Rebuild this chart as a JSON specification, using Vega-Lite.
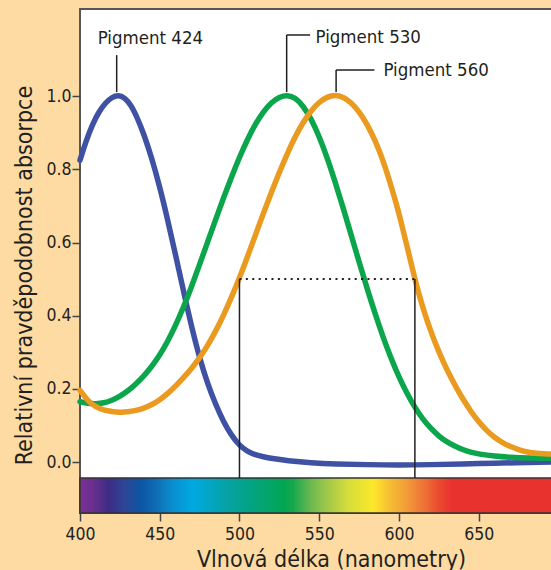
{
  "$schema": "https://vega.github.io/schema/vega-lite/v6.json",
  "width": 480,
  "height": 504,
  "autosize": "none",
  "padding": {"left": 80, "top": 9, "right": 0, "bottom": 57},
  "background": "#FDDBA3",
  "config": {
    "view": {"fill": "white", "stroke": "#555555", "strokeWidth": 2},
    "font": "DejaVu Sans Condensed, Liberation Sans, sans-serif"
  },
  "encoding": {
    "x": {
      "field": "wl", "type": "quantitative",
      "scale": {"domain": [400, 701], "nice": false, "zero": false},
      "axis": {
        "values": [400, 450, 500, 550, 600, 650], "grid": false, "domain": false,
        "labelFlush": false, "labelOverlap": false,
        "tickSize": 8, "tickColor": "#444444", "tickWidth": 1.5,
        "labelFont": "DejaVu Sans Condensed, Liberation Sans, sans-serif", "labelFontSize": 17.5, "labelColor": "#231F20", "labelPadding": 4,
        "title": "Vlnová délka (nanometry)", "titleFont": "DejaVu Sans Condensed, Liberation Sans, sans-serif", "titleFontSize": 23,
        "titleFontWeight": "normal", "titleColor": "#231F20", "titleX": 251, "titleY": 53,
        "titleBaseline": "alphabetic", "titleAlign": "center"
      }
    },
    "y": {
      "field": "val", "type": "quantitative",
      "scale": {"domain": [-0.139, 1.238], "nice": false, "zero": false},
      "axis": {
        "values": [0, 0.2, 0.4, 0.6, 0.8, 1.0], "format": ".1f", "grid": false, "domain": false,
        "labelFlush": false, "labelOverlap": false,
        "tickSize": 8, "tickColor": "#444444", "tickWidth": 1.5,
        "labelFont": "DejaVu Sans Condensed, Liberation Sans, sans-serif", "labelFontSize": 17.5, "labelColor": "#231F20", "labelPadding": 1,
        "title": "Relativní pravděpodobnost absorpce", "titleFont": "DejaVu Sans Condensed, Liberation Sans, sans-serif", "titleFontSize": 23,
        "titleFontWeight": "normal", "titleColor": "#231F20", "titleX": -49, "titleY": 266,
        "titleBaseline": "alphabetic", "titleAlign": "center", "titleAngle": -90
      }
    }
  },
  "layer": [
    {
      "data": {"values": [{"wl": 400, "wl2": 701, "val": -0.0437, "val2": -0.139}]},
      "mark": {
        "type": "rect", "stroke": "#333333", "strokeWidth": 1.5,
        "color": {
          "gradient": "linear", "x1": 0, "y1": 0, "x2": 1, "y2": 0,
          "stops": [
            {"offset": 0, "color": "#7B3193"},
            {"offset": 0.027, "color": "#6A2F8F"},
            {"offset": 0.06, "color": "#3D2C84"},
            {"offset": 0.093, "color": "#2E4596"},
            {"offset": 0.126, "color": "#0C55A2"},
            {"offset": 0.159, "color": "#0F6DB4"},
            {"offset": 0.193, "color": "#0A8ECF"},
            {"offset": 0.233, "color": "#00A8E0"},
            {"offset": 0.266, "color": "#03A6C8"},
            {"offset": 0.306, "color": "#06A2A6"},
            {"offset": 0.349, "color": "#03A387"},
            {"offset": 0.392, "color": "#03A56A"},
            {"offset": 0.425, "color": "#00A651"},
            {"offset": 0.445, "color": "#1AA84D"},
            {"offset": 0.482, "color": "#6CB94E"},
            {"offset": 0.518, "color": "#A5C94A"},
            {"offset": 0.558, "color": "#D5DD3A"},
            {"offset": 0.611, "color": "#FCE82A"},
            {"offset": 0.641, "color": "#F7C233"},
            {"offset": 0.681, "color": "#F29B38"},
            {"offset": 0.714, "color": "#EE7535"},
            {"offset": 0.748, "color": "#EA4A30"},
            {"offset": 0.774, "color": "#E8322E"},
            {"offset": 1, "color": "#E8322E"}
          ]
        }
      },
      "encoding": {"x2": {"field": "wl2"}, "y2": {"field": "val2"}}
    },
    {
      "data": {"values": [
        {"pigment": "424", "wl": 400, "val": 0.825}, {"pigment": "424", "wl": 404, "val": 0.88},
        {"pigment": "424", "wl": 408, "val": 0.925}, {"pigment": "424", "wl": 412, "val": 0.958},
        {"pigment": "424", "wl": 416, "val": 0.982}, {"pigment": "424", "wl": 420, "val": 0.997},
        {"pigment": "424", "wl": 424, "val": 1.003}, {"pigment": "424", "wl": 428, "val": 0.996},
        {"pigment": "424", "wl": 432, "val": 0.976}, {"pigment": "424", "wl": 436, "val": 0.94},
        {"pigment": "424", "wl": 440, "val": 0.897}, {"pigment": "424", "wl": 445, "val": 0.831},
        {"pigment": "424", "wl": 450, "val": 0.752}, {"pigment": "424", "wl": 455, "val": 0.662},
        {"pigment": "424", "wl": 460, "val": 0.565}, {"pigment": "424", "wl": 465, "val": 0.465},
        {"pigment": "424", "wl": 470, "val": 0.369}, {"pigment": "424", "wl": 475, "val": 0.284},
        {"pigment": "424", "wl": 480, "val": 0.214}, {"pigment": "424", "wl": 485, "val": 0.158},
        {"pigment": "424", "wl": 490, "val": 0.11}, {"pigment": "424", "wl": 495, "val": 0.073},
        {"pigment": "424", "wl": 500, "val": 0.045}, {"pigment": "424", "wl": 505, "val": 0.029},
        {"pigment": "424", "wl": 510, "val": 0.02}, {"pigment": "424", "wl": 515, "val": 0.0145},
        {"pigment": "424", "wl": 520, "val": 0.01}, {"pigment": "424", "wl": 530, "val": 0.004},
        {"pigment": "424", "wl": 545, "val": -0.002}, {"pigment": "424", "wl": 560, "val": -0.005},
        {"pigment": "424", "wl": 580, "val": -0.007}, {"pigment": "424", "wl": 600, "val": -0.008},
        {"pigment": "424", "wl": 620, "val": -0.007}, {"pigment": "424", "wl": 640, "val": -0.005},
        {"pigment": "424", "wl": 660, "val": -0.003}, {"pigment": "424", "wl": 680, "val": -0.001},
        {"pigment": "424", "wl": 701, "val": 0.001},

        {"pigment": "530", "wl": 400, "val": 0.165}, {"pigment": "530", "wl": 405, "val": 0.16},
        {"pigment": "530", "wl": 410, "val": 0.159}, {"pigment": "530", "wl": 415, "val": 0.1615},
        {"pigment": "530", "wl": 420, "val": 0.1685}, {"pigment": "530", "wl": 425, "val": 0.1795},
        {"pigment": "530", "wl": 430, "val": 0.1945}, {"pigment": "530", "wl": 435, "val": 0.213},
        {"pigment": "530", "wl": 440, "val": 0.235}, {"pigment": "530", "wl": 445, "val": 0.261},
        {"pigment": "530", "wl": 450, "val": 0.292}, {"pigment": "530", "wl": 455, "val": 0.33},
        {"pigment": "530", "wl": 460, "val": 0.374}, {"pigment": "530", "wl": 465, "val": 0.424},
        {"pigment": "530", "wl": 470, "val": 0.48}, {"pigment": "530", "wl": 475, "val": 0.54},
        {"pigment": "530", "wl": 480, "val": 0.601}, {"pigment": "530", "wl": 485, "val": 0.662},
        {"pigment": "530", "wl": 490, "val": 0.722}, {"pigment": "530", "wl": 495, "val": 0.779},
        {"pigment": "530", "wl": 500, "val": 0.833}, {"pigment": "530", "wl": 505, "val": 0.882},
        {"pigment": "530", "wl": 510, "val": 0.924}, {"pigment": "530", "wl": 515, "val": 0.958},
        {"pigment": "530", "wl": 520, "val": 0.983}, {"pigment": "530", "wl": 525, "val": 0.998},
        {"pigment": "530", "wl": 530, "val": 1.003}, {"pigment": "530", "wl": 535, "val": 0.996},
        {"pigment": "530", "wl": 540, "val": 0.973}, {"pigment": "530", "wl": 545, "val": 0.938},
        {"pigment": "530", "wl": 550, "val": 0.89}, {"pigment": "530", "wl": 555, "val": 0.832},
        {"pigment": "530", "wl": 560, "val": 0.766}, {"pigment": "530", "wl": 565, "val": 0.695},
        {"pigment": "530", "wl": 570, "val": 0.621}, {"pigment": "530", "wl": 575, "val": 0.547},
        {"pigment": "530", "wl": 580, "val": 0.475}, {"pigment": "530", "wl": 585, "val": 0.406},
        {"pigment": "530", "wl": 590, "val": 0.342}, {"pigment": "530", "wl": 595, "val": 0.284},
        {"pigment": "530", "wl": 600, "val": 0.232}, {"pigment": "530", "wl": 605, "val": 0.188},
        {"pigment": "530", "wl": 610, "val": 0.149}, {"pigment": "530", "wl": 615, "val": 0.117},
        {"pigment": "530", "wl": 620, "val": 0.092}, {"pigment": "530", "wl": 625, "val": 0.071},
        {"pigment": "530", "wl": 630, "val": 0.055}, {"pigment": "530", "wl": 635, "val": 0.044},
        {"pigment": "530", "wl": 640, "val": 0.034}, {"pigment": "530", "wl": 645, "val": 0.027},
        {"pigment": "530", "wl": 650, "val": 0.022}, {"pigment": "530", "wl": 660, "val": 0.016},
        {"pigment": "530", "wl": 670, "val": 0.013}, {"pigment": "530", "wl": 680, "val": 0.011},
        {"pigment": "530", "wl": 701, "val": 0.01},

        {"pigment": "560", "wl": 400, "val": 0.196}, {"pigment": "560", "wl": 405, "val": 0.167},
        {"pigment": "560", "wl": 410, "val": 0.15}, {"pigment": "560", "wl": 415, "val": 0.142},
        {"pigment": "560", "wl": 420, "val": 0.138}, {"pigment": "560", "wl": 425, "val": 0.136},
        {"pigment": "560", "wl": 430, "val": 0.137}, {"pigment": "560", "wl": 435, "val": 0.141},
        {"pigment": "560", "wl": 440, "val": 0.147}, {"pigment": "560", "wl": 445, "val": 0.157},
        {"pigment": "560", "wl": 450, "val": 0.17}, {"pigment": "560", "wl": 455, "val": 0.187},
        {"pigment": "560", "wl": 460, "val": 0.208}, {"pigment": "560", "wl": 465, "val": 0.231},
        {"pigment": "560", "wl": 470, "val": 0.256}, {"pigment": "560", "wl": 475, "val": 0.285},
        {"pigment": "560", "wl": 480, "val": 0.318}, {"pigment": "560", "wl": 485, "val": 0.357},
        {"pigment": "560", "wl": 490, "val": 0.401}, {"pigment": "560", "wl": 495, "val": 0.45},
        {"pigment": "560", "wl": 500, "val": 0.503}, {"pigment": "560", "wl": 505, "val": 0.561},
        {"pigment": "560", "wl": 510, "val": 0.62}, {"pigment": "560", "wl": 515, "val": 0.68},
        {"pigment": "560", "wl": 520, "val": 0.737}, {"pigment": "560", "wl": 525, "val": 0.792},
        {"pigment": "560", "wl": 530, "val": 0.843}, {"pigment": "560", "wl": 535, "val": 0.89},
        {"pigment": "560", "wl": 540, "val": 0.929}, {"pigment": "560", "wl": 545, "val": 0.961},
        {"pigment": "560", "wl": 550, "val": 0.984}, {"pigment": "560", "wl": 555, "val": 0.998},
        {"pigment": "560", "wl": 560, "val": 1.003}, {"pigment": "560", "wl": 565, "val": 0.998},
        {"pigment": "560", "wl": 570, "val": 0.983}, {"pigment": "560", "wl": 575, "val": 0.958},
        {"pigment": "560", "wl": 580, "val": 0.924}, {"pigment": "560", "wl": 585, "val": 0.88},
        {"pigment": "560", "wl": 590, "val": 0.825}, {"pigment": "560", "wl": 594, "val": 0.77},
        {"pigment": "560", "wl": 598, "val": 0.712}, {"pigment": "560", "wl": 602, "val": 0.645},
        {"pigment": "560", "wl": 606, "val": 0.573}, {"pigment": "560", "wl": 610, "val": 0.5},
        {"pigment": "560", "wl": 612, "val": 0.467}, {"pigment": "560", "wl": 616, "val": 0.408},
        {"pigment": "560", "wl": 620, "val": 0.357}, {"pigment": "560", "wl": 624, "val": 0.312},
        {"pigment": "560", "wl": 628, "val": 0.272}, {"pigment": "560", "wl": 632, "val": 0.236},
        {"pigment": "560", "wl": 636, "val": 0.203}, {"pigment": "560", "wl": 640, "val": 0.173},
        {"pigment": "560", "wl": 645, "val": 0.139}, {"pigment": "560", "wl": 650, "val": 0.11},
        {"pigment": "560", "wl": 655, "val": 0.086}, {"pigment": "560", "wl": 660, "val": 0.067},
        {"pigment": "560", "wl": 665, "val": 0.053}, {"pigment": "560", "wl": 670, "val": 0.042},
        {"pigment": "560", "wl": 675, "val": 0.034}, {"pigment": "560", "wl": 680, "val": 0.028},
        {"pigment": "560", "wl": 685, "val": 0.025}, {"pigment": "560", "wl": 690, "val": 0.023},
        {"pigment": "560", "wl": 701, "val": 0.021}
      ]},
      "mark": {"type": "line", "strokeWidth": 5.5, "interpolate": "basis", "strokeCap": "round"},
      "encoding": {
        "color": {
          "field": "pigment", "type": "nominal",
          "scale": {"domain": ["424", "530", "560"], "range": ["#3F51A3", "#0BA64B", "#EA9A1F"]},
          "legend": null
        }
      }
    },
    {
      "data": {"values": [
        {"wl": 500, "val": -0.0437, "wl2": 500, "val2": 0.5},
        {"wl": 610, "val": -0.0437, "wl2": 610, "val2": 0.5},
        {"wl": 423, "val": 1.011, "wl2": 423, "val2": 1.112},
        {"wl": 529.6, "val": 1.011, "wl2": 529.6, "val2": 1.167},
        {"wl": 529.6, "val": 1.167, "wl2": 544.3, "val2": 1.167},
        {"wl": 560.6, "val": 1.011, "wl2": 560.6, "val2": 1.071},
        {"wl": 560.6, "val": 1.071, "wl2": 584.6, "val2": 1.071}
      ]},
      "mark": {"type": "rule", "stroke": "#231F20", "strokeWidth": 1.5},
      "encoding": {"x2": {"field": "wl2"}, "y2": {"field": "val2"}}
    },
    {
      "data": {"values": [
        {"wl": 500, "val": 0.5, "wl2": 610, "val2": 0.5}
      ]},
      "mark": {"type": "rule", "stroke": "#231F20", "strokeWidth": 2, "strokeDash": [2, 4.4]},
      "encoding": {"x2": {"field": "wl2"}, "y2": {"field": "val2"}}
    },
    {
      "data": {"values": [
        {"label": "Pigment 424", "wl": 411.1, "val": 1.158},
        {"label": "Pigment 530", "wl": 547.7, "val": 1.162},
        {"label": "Pigment 560", "wl": 590.3, "val": 1.071}
      ]},
      "mark": {"type": "text", "align": "left", "baseline": "middle", "font": "DejaVu Sans Condensed, Liberation Sans, sans-serif", "fontSize": 18.5, "color": "#231F20"},
      "encoding": {"text": {"field": "label"}}
    }
  ]
}
